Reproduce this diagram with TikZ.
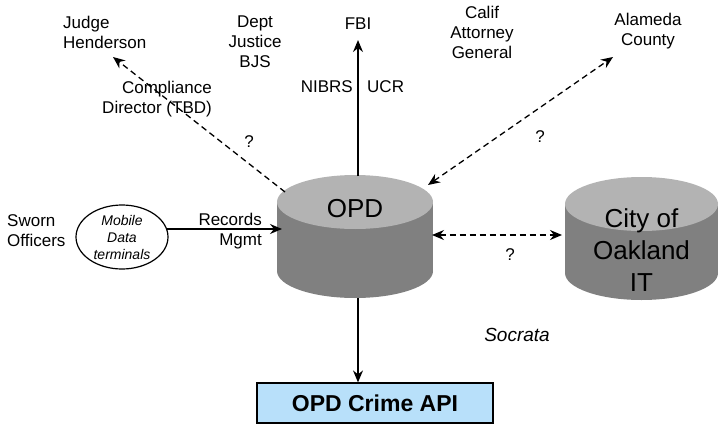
\documentclass[tikz,border=0pt]{standalone}
\usepackage{fontspec}
\setmainfont{Liberation Sans}
\usetikzlibrary{arrows.meta,shapes.geometric}
\definecolor{cyltop}{HTML}{B3B3B3}
\definecolor{cylbody}{HTML}{808080}
\definecolor{apiblue}{HTML}{B8E0FA}
\begin{document}
\begin{tikzpicture}[x=1pt,y=-1pt,
  lbl/.style={font=\fontsize{17}{20}\selectfont, align=center, inner sep=0},
  qm/.style={font=\fontsize{17}{20}\selectfont, inner sep=0},
  arr/.style={line width=1.3pt, -{Stealth[length=12pt,width=10pt,inset=4pt]}},
  darr/.style={line width=1.3pt, {Stealth[length=12pt,width=10pt,inset=4pt]}-{Stealth[length=12pt,width=10pt,inset=4pt]}},
  dsh/.style={dash pattern=on 6pt off 4pt}]
\useasboundingbox (0,0) rectangle (719,425);

% OPD cylinder
\fill[cylbody] (277,202) rectangle (433,271);
\fill[cylbody] (355,271) ellipse [x radius=78, y radius=27];
\fill[cyltop] (355,202) ellipse [x radius=78, y radius=27];
\node[font=\fontsize{26}{30}\selectfont, inner sep=0] (opd) at (355,209) {OPD};

% City cylinder
\fill[cylbody] (565,204) rectangle (718,273);
\fill[cylbody] (641.5,273) ellipse [x radius=76.5, y radius=27];
\fill[cyltop] (641.5,204) ellipse [x radius=76.5, y radius=27];
\node[font=\fontsize{26}{32}\selectfont, align=center, inner sep=0] (city) at (641.5,250) {City of\\Oakland\\IT};

% text nodes
\node[lbl, align=left, anchor=west] (judge) at (63,32) {Judge\\Henderson};
\node[lbl] (doj) at (255,42) {Dept\\Justice\\BJS};
\node[lbl] (fbi) at (358,24) {FBI};
\node[lbl] (calag) at (482,32) {Calif\\Attorney\\General};
\node[lbl] (alameda) at (648,31) {Alameda\\County};
\node[lbl, align=right, anchor=east] (cdir) at (212,99) {Compliance\\Director (TBD)};
\node[lbl, anchor=east] (nibrs) at (353,87) {NIBRS};
\node[lbl, anchor=west] (ucr) at (367,87) {UCR};
\node[lbl, align=left, anchor=west] (sworn) at (7,231) {Sworn\\Officers};
\node[draw, ellipse, line width=1.2pt, minimum width=92pt, minimum height=64pt, inner sep=0,
      font=\fontsize{14}{17}\selectfont\itshape, align=center] (mdt) at (122,237) {Mobile\\Data\\terminals};
\node[lbl, align=right, anchor=east] (rec) at (262,231) {Records\\Mgmt};
\node[font=\fontsize{19}{22}\selectfont\itshape, inner sep=0] (socrata) at (517,335) {Socrata};
\node[draw, line width=1.2pt, fill=apiblue, minimum width=236pt, minimum height=40pt, inner sep=0,
      font=\fontsize{23}{26}\selectfont\bfseries] (api) at (375,403) {OPD Crime API};
\node[qm] (q1) at (249,142) {?};
\node[qm] (q2) at (540,137) {?};
\node[qm] (q3) at (510,255) {?};

% connection points
\coordinate (opdL) at (282,229);
\coordinate (opdB) at (358,298);
\coordinate (opdT) at (358,176);
\coordinate (opdNW) at (285,192);
\coordinate (judgeTip) at (113,57);
\coordinate (opdNE) at (428,185);
\coordinate (alaTip) at (613,57);
\coordinate (opdE) at (432,235);
\coordinate (cityW) at (562,235);

% connectors
\draw[arr] (mdt.center) ++(44.5,-8) -- (opdL);
\draw[arr] (opdB) -- (opdB |- api.north);
\draw[arr] (opdT) -- ([yshift=-10pt]fbi.south);
\draw[arr, dsh] (opdNW) -- (judgeTip);
\draw[darr, dsh] (opdNE) -- (alaTip);
\draw[darr, dsh] (opdE) -- (cityW);
\end{tikzpicture}
\end{document}
